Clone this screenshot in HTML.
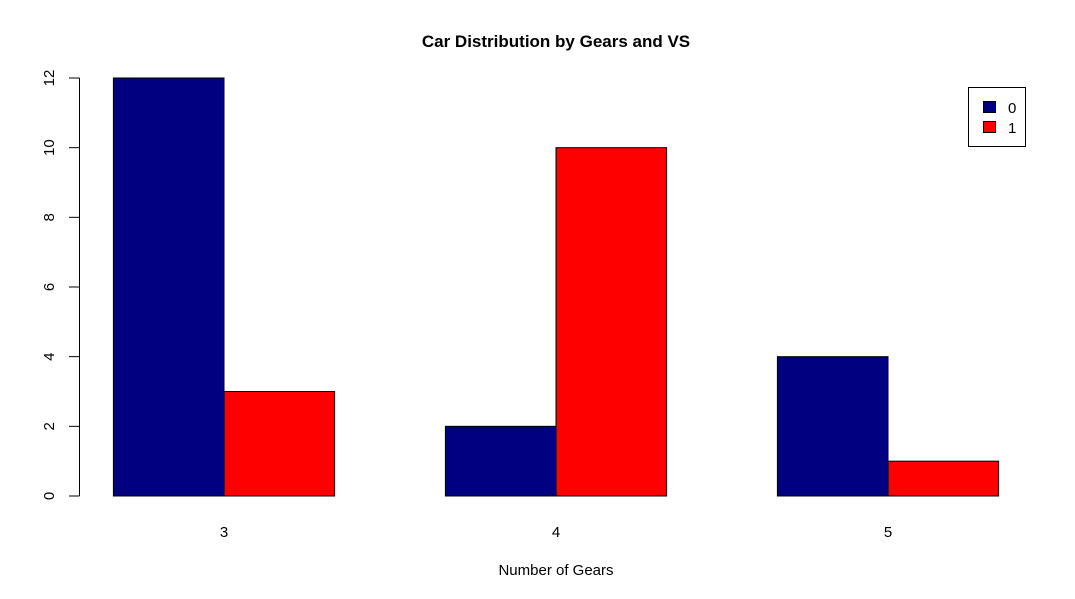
<!DOCTYPE html>
<html><head><meta charset="utf-8"><style>
body{margin:0;background:#fff}
svg{display:block;font-family:"Liberation Sans",Arial,sans-serif}
</style></head><body>
<svg id="chart" width="1075" height="599">
<text x="556" y="47" text-anchor="middle" font-size="17" font-weight="bold">Car Distribution by Gears and VS</text>
<text x="556" y="575" text-anchor="middle" font-size="15">Number of Gears</text>
<g id="bars"></g>
<g id="yaxis"></g>
<g id="xlabels"></g>
<g>
<rect x="968.5" y="87.5" width="57" height="59" fill="#fff" stroke="#000"/>
<rect x="983.5" y="101.5" width="12" height="11" fill="#000080" stroke="#000"/>
<text x="1008" y="113" font-size="15">0</text>
<rect x="983.5" y="121.5" width="12" height="11" fill="#ff0000" stroke="#000"/>
<text x="1008" y="133" font-size="15">1</text>
</g>
</svg>
<script>
const categories = ["3","4","5"];
const vs0 = [12, 2, 4];
const vs1 = [3, 10, 1];
const yTicks = [0, 2, 4, 6, 8, 10, 12];
const colors = ["#000080", "#ff0000"];
const NS="http://www.w3.org/2000/svg";
const y = v => 496 - v * (418/12);
const groupCenter = i => 224 + i * 332;
const barW = 110.6;
function mk(tag, attrs, parent){const e=document.createElementNS(NS,tag);for(const k in attrs)e.setAttribute(k,attrs[k]);parent.appendChild(e);return e;}
const bars=document.getElementById('bars');
categories.forEach((c,i)=>{
  [vs0[i], vs1[i]].forEach((v,j)=>{
    const x = groupCenter(i) + (j===0 ? -barW : 0);
    const r = mk('rect',{x:x,y:y(v),width:barW,height:y(0)-y(v),fill:colors[j],stroke:'#000','stroke-width':1},bars);
    
    
  });
  const t = mk('text',{x:groupCenter(i),y:537,'text-anchor':'middle','font-size':15},document.getElementById('xlabels'));
  t.textContent=c;
  
  
});
const ya=document.getElementById('yaxis');
const al = mk('line',{x1:79.5,x2:79.5,y1:y(0),y2:y(12),stroke:'#000'},ya);


yTicks.forEach(v=>{
  const tk = mk('line',{x1:69,x2:79.5,y1:y(v),y2:y(v),stroke:'#000'},ya);
  
  
  const t = mk('text',{x:0,y:0,'text-anchor':'middle','font-size':15,transform:`translate(54,${y(v)}) rotate(-90)`},ya);
  t.textContent=v;
  
  
});
</script>
</body></html>
